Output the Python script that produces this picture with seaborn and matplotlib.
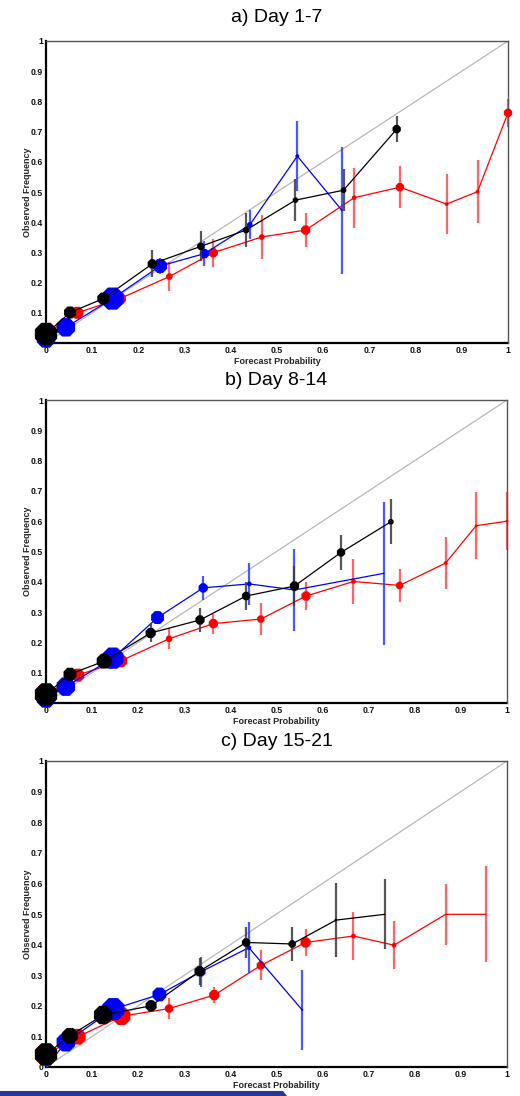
import numpy as np
import pandas as pd
import matplotlib
matplotlib.use("Agg")
import matplotlib.pyplot as plt
from matplotlib.patches import Polygon
import seaborn as sns

sns.set_theme(style="white")
plt.rcParams["font.family"] = ["Liberation Sans", "DejaVu Sans"]

# ---- reliability data: forecast probability, observed frequency, error half-width ----
# a) Day 1-7
a_black_x = [0.0, 0.052, 0.124, 0.230, 0.335, 0.433, 0.540, 0.644, 0.759]
a_black_y = [0.030, 0.101, 0.147, 0.262, 0.320, 0.374, 0.473, 0.506, 0.708]
a_black_e = [0.010, 0.010, 0.015, 0.045, 0.050, 0.057, 0.070, 0.070, 0.043]
a_red_x = [0.0, 0.068, 0.160, 0.267, 0.362, 0.467, 0.562, 0.667, 0.766, 0.867, 0.934, 1.0]
a_red_y = [0.030, 0.100, 0.147, 0.220, 0.299, 0.351, 0.374, 0.481, 0.516, 0.460, 0.501, 0.762]
a_red_e = [0.010, 0.010, 0.012, 0.048, 0.046, 0.074, 0.056, 0.099, 0.070, 0.100, 0.105, 0.047]
a_blue_x = [0.0, 0.043, 0.144, 0.247, 0.343, 0.441, 0.544, 0.640]
a_blue_y = [0.015, 0.052, 0.147, 0.255, 0.296, 0.391, 0.619, 0.440]
a_blue_e = [0.005, 0.010, 0.012, 0.025, 0.042, 0.048, 0.116, 0.210]

# b) Day 8-14
b_black_x = [0.0, 0.052, 0.126, 0.227, 0.334, 0.434, 0.539, 0.640, 0.748]
b_black_y = [0.028, 0.095, 0.138, 0.231, 0.274, 0.353, 0.386, 0.497, 0.598]
b_black_e = [0.010, 0.010, 0.012, 0.030, 0.039, 0.045, 0.066, 0.058, 0.074]
b_red_x = [0.0, 0.069, 0.162, 0.267, 0.363, 0.466, 0.564, 0.667, 0.767, 0.867, 0.933, 1.0]
b_red_y = [0.028, 0.092, 0.139, 0.212, 0.262, 0.277, 0.353, 0.401, 0.388, 0.462, 0.585, 0.600]
b_red_e = [0.010, 0.010, 0.010, 0.035, 0.033, 0.053, 0.045, 0.073, 0.054, 0.087, 0.110, 0.096]
b_blue_x = [0.0, 0.043, 0.145, 0.242, 0.341, 0.441, 0.539, 0.733]
b_blue_y = [0.015, 0.054, 0.148, 0.282, 0.380, 0.393, 0.373, 0.428]
b_blue_e = [0.005, 0.010, 0.012, 0.020, 0.040, 0.070, 0.136, 0.237]

# c) Day 15-21
c_black_x = [0.0, 0.052, 0.124, 0.228, 0.333, 0.434, 0.534, 0.629, 0.735]
c_black_y = [0.041, 0.102, 0.170, 0.200, 0.313, 0.407, 0.402, 0.480, 0.499]
c_black_e = [0.010, 0.010, 0.012, 0.020, 0.044, 0.050, 0.057, 0.120, 0.114]
c_red_x = [0.0, 0.069, 0.164, 0.267, 0.365, 0.466, 0.563, 0.667, 0.755, 0.867, 0.954]
c_red_y = [0.041, 0.099, 0.166, 0.191, 0.235, 0.332, 0.407, 0.428, 0.398, 0.499, 0.499]
c_red_e = [0.010, 0.010, 0.012, 0.033, 0.027, 0.049, 0.044, 0.079, 0.078, 0.100, 0.157]
c_blue_x = [0.0, 0.043, 0.146, 0.246, 0.336, 0.440, 0.556]
c_blue_y = [0.0, 0.081, 0.189, 0.237, 0.311, 0.390, 0.186]
c_blue_e = [0.0, 0.010, 0.012, 0.015, 0.050, 0.084, 0.130]

# marker diameters (pixels), scaled with bin population
a_black_d = [24, 13, 13, 10, 8, 7, 6, 6, 9]
a_red_d = [24, 13, 13, 7, 10, 6, 10, 5, 9, 4, 4, 9]
a_blue_d = [20, 20, 24, 15, 10, 6, 4, 2]
b_black_d = [24, 14, 16, 11, 10, 9, 10, 9, 6]
b_red_d = [24, 14, 14, 7, 10, 8, 10, 5, 8, 4, 3, 3]
b_blue_d = [20, 20, 23, 14, 10, 5, 3, 0]
c_black_d = [24, 17, 20, 12, 11, 9, 8, 3, 0]
c_red_d = [24, 17, 19, 9, 11, 9, 11, 5, 5, 0, 0]
c_blue_d = [0, 20, 24, 15, 10, 5, 2]

titles = ["a) Day 1-7", "b) Day 8-14", "c) Day 15-21"]
ticks = [0, 0.1, 0.2, 0.3, 0.4, 0.5, 0.6, 0.7, 0.8, 0.9, 1]
tick_labels = ["0", "0.1", "0.2", "0.3", "0.4", "0.5", "0.6", "0.7", "0.8", "0.9", "1"]

panels = [
    [("red", a_red_x, a_red_y, a_red_e, a_red_d),
     ("blue", a_blue_x, a_blue_y, a_blue_e, a_blue_d),
     ("black", a_black_x, a_black_y, a_black_e, a_black_d)],
    [("red", b_red_x, b_red_y, b_red_e, b_red_d),
     ("blue", b_blue_x, b_blue_y, b_blue_e, b_blue_d),
     ("black", b_black_x, b_black_y, b_black_e, b_black_d)],
    [("red", c_red_x, c_red_y, c_red_e, c_red_d),
     ("blue", c_blue_x, c_blue_y, c_blue_e, c_blue_d),
     ("black", c_black_x, c_black_y, c_black_e, c_black_d)],
]

bar_colors = {"red": "#ff4a4a", "blue": "#2a3cff", "black": "#3a3a3a"}

W, H = 520, 1096
fig = plt.figure(figsize=(W / 100, H / 100), dpi=100)

# axes boxes in pixels: left, top, right, bottom
boxes = [(46, 41, 508, 343), (46, 400, 507, 703), (46, 761, 507, 1067)]
title_y = [18, 380, 742]

for (l, t, r, b), title, ty, series in zip(boxes, titles, title_y, panels):
    ax = fig.add_axes([l / W, 1 - b / H, (r - l) / W, (b - t) / H])
    ax.set_xlim(0, 1)
    ax.set_ylim(0, 1)
    # perfect reliability diagonal
    ax.plot([0, 1], [0, 1], color="#b8b8b8", lw=0.9, zorder=1)

    for k, (col, xs, ys, es, ds) in enumerate(series):
        df = pd.DataFrame({"x": xs, "y": ys})
        ax.errorbar(xs, ys, yerr=es, fmt="none", ecolor=bar_colors[col],
                    elinewidth=1.6, capsize=0, alpha=0.85, zorder=2 + k * 3,
                    clip_on=False)
        sns.lineplot(data=df, x="x", y="y", ax=ax, color=col, lw=0.9,
                     sort=False, estimator=None, zorder=3 + k * 3)
        sizes = [(d * 0.72) ** 2 for d in ds]
        sns.scatterplot(data=df, x="x", y="y", ax=ax, color=col, marker="8",
                        s=sizes, linewidth=0, zorder=4 + k * 3, legend=False,
                        clip_on=False)

    ax.set_xticks(ticks)
    ax.set_xticklabels(tick_labels)
    ax.set_yticks(ticks)
    ax.set_yticklabels(tick_labels)
    ax.tick_params(axis="both", length=0, pad=2, labelsize=6.3, colors="#111111")
    for lab in ax.get_xticklabels() + ax.get_yticklabels():
        lab.set_fontweight("bold")
    ax.set_xlabel("Forecast Probability", fontsize=6.5, fontweight="bold", labelpad=1.5)
    ax.set_ylabel("Observed Frequency", fontsize=6.5, fontweight="bold", labelpad=-1)

    for side in ("left", "bottom"):
        ax.spines[side].set_color("black")
        ax.spines[side].set_linewidth(1.6)
        ax.spines[side].set_zorder(0.5)
    for side in ("top", "right"):
        ax.spines[side].set_color("#555555")
        ax.spines[side].set_linewidth(1.0)

    fig.text((l + r) / 2 / W, 1 - ty / H, title, ha="center", va="center",
             fontsize=14, color="black")

# footer band
band = Polygon([(0, 0), (287 / W, 0), (283 / W, 5 / H), (0, 5 / H)],
               closed=True, transform=fig.transFigure, color="#24389a", lw=0)
fig.patches.append(band)

fig.savefig("out.png", dpi=100)
